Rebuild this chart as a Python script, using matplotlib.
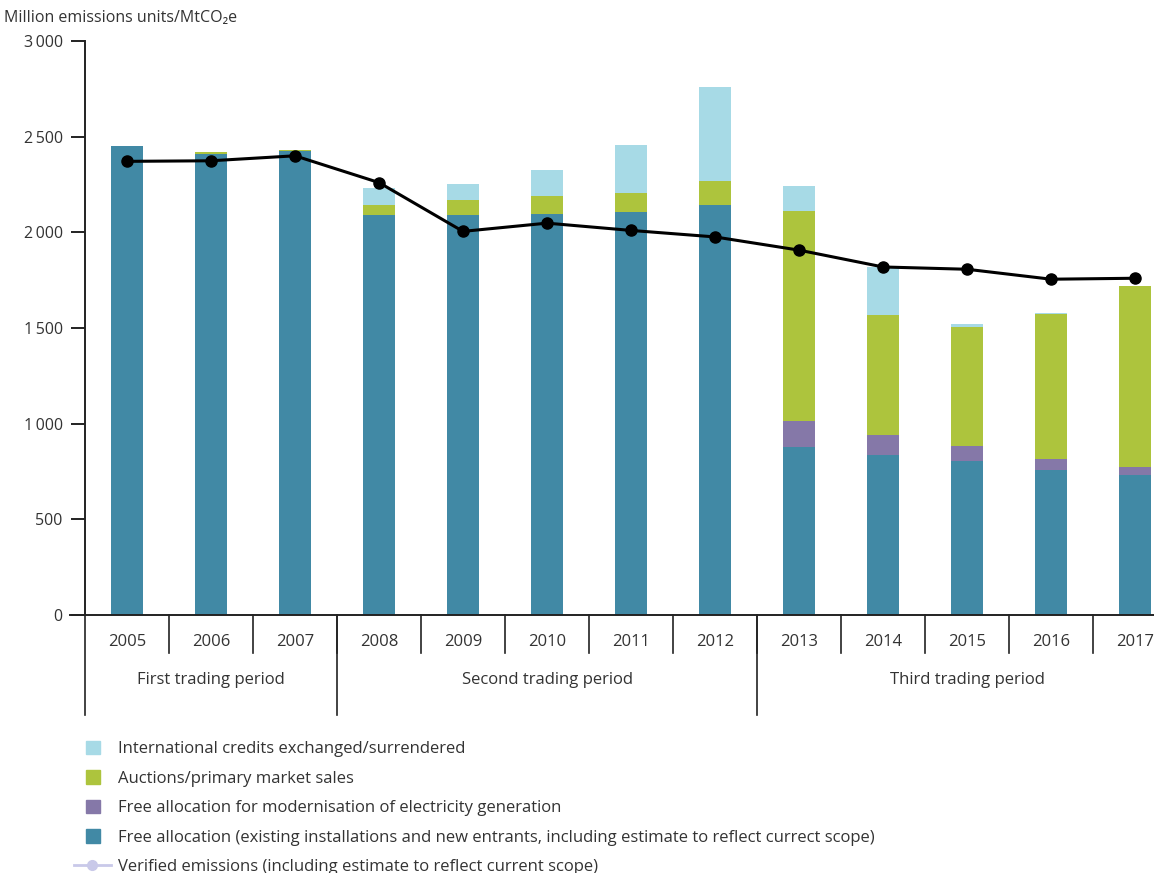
import matplotlib
matplotlib.use('Agg')
import matplotlib.pyplot as plt
from matplotlib.patches import Patch
from matplotlib.lines import Line2D
from matplotlib.legend_handler import HandlerLine2D
import numpy as np

plt.rcParams['font.family'] = ['Open Sans', 'DejaVu Sans']

years = ['2005', '2006', '2007', '2008', '2009', '2010', '2011', '2012',
         '2013', '2014', '2015', '2016', '2017']
free_alloc = [2453, 2410, 2425, 2088, 2091, 2097, 2108, 2143, 879, 838, 807, 760, 730]
modernisation = [0, 0, 0, 0, 0, 0, 0, 0, 135, 103, 76, 54, 42]
auctions = [0, 12, 5, 55, 78, 94, 99, 124, 1100, 626, 622, 760, 948]
intl_credits = [0, 0, 0, 91, 83, 136, 250, 493, 129, 254, 17, 5, 0]
verified = [2371, 2374, 2400, 2260, 2005, 2048, 2010, 1976, 1907, 1819, 1807, 1755, 1760]

periods = ['First trading period', 'Second trading period', 'Third trading period']
period_bounds = [(0, 2), (3, 7), (8, 12)]

c_free = '#4189a5'
c_mod = '#8578a8'
c_auct = '#adc43d'
c_intl = '#a7dae6'
txt = '#333333'
fs = 12


class LongLine(HandlerLine2D):
    # legend line for verified emissions reaches out past the square swatches
    def create_artists(self, legend, orig_handle, xdescent, ydescent, width,
                       height, fontsize, trans):
        return super().create_artists(legend, orig_handle, xdescent + 9, ydescent,
                                      width + 17, height, fontsize, trans)


fig = plt.figure(figsize=(11.54, 8.73), dpi=100)
W, H = 1154, 873
ax = fig.add_axes([85 / W, 1 - 615 / H, 1092 / W, 574 / H])

x = np.arange(len(years))
bw = 0.39
b1 = np.array(free_alloc)
b2 = b1 + np.array(modernisation)
b3 = b2 + np.array(auctions)
ax.bar(x, free_alloc, bw, color=c_free)
ax.bar(x, modernisation, bw, bottom=b1, color=c_mod)
ax.bar(x, auctions, bw, bottom=b2, color=c_auct)
ax.bar(x, intl_credits, bw, bottom=b3, color=c_intl)
ax.plot(x, verified, color='black', lw=2.2, marker='o', ms=8, zorder=5)

ax.set_xlim(-0.5, len(years) - 0.5)
ax.set_ylim(0, 3000)
ax.set_yticks(range(0, 3001, 500))
ax.set_yticklabels([f'{v:,}'.replace(',', '\u2009') if v >= 1000 else str(v)
                    for v in range(0, 3001, 500)], fontsize=11.5, color=txt)
ax.tick_params(axis='y', length=10, width=1.4, color='#222222', pad=6)
ax.set_xticks([])
for s in ['top', 'right']:
    ax.spines[s].set_visible(False)
ax.spines['left'].set_linewidth(1.4)
ax.spines['bottom'].set_linewidth(1.4)
ax.spines['left'].set_color('#222222')
ax.spines['bottom'].set_color('#222222')

# baseline runs a little past the y axis, like a tick
ax.plot([-0.5 - 15 / 84, -0.5], [0, 0], transform=ax.get_xaxis_transform(),
        color='#222222', lw=1.4, clip_on=False)

tr = ax.get_xaxis_transform()
px = 1 / 574
for i, y in enumerate(years):
    ax.text(i, -27 * px, y, transform=tr, ha='center', va='center', fontsize=fs, color=txt)
for b in np.arange(0.5, len(years) - 1, 1.0):
    ax.plot([b, b], [0, -38 * px], transform=tr, color='#222222', lw=1.2, clip_on=False)
for b in [-0.5, 2.5, 7.5]:
    ax.plot([b, b], [0, -100 * px], transform=tr, color='#222222', lw=1.2, clip_on=False)
for name, (a, z) in zip(periods, period_bounds):
    ax.text((a + z) / 2, -65 * px, name, transform=tr, ha='center', va='center',
            fontsize=fs, color=txt)

fig.text(4 / W, 1 - 18 / H, 'Million emissions units/MtCO\u2082e', fontsize=11.5,
         color=txt, va='center', ha='left')

ver = Line2D([], [], color='#c9c9e9', lw=2, marker='o', ms=7,
             label='Verified emissions (including estimate to reflect current scope)')
handles = [
    Patch(color=c_intl, label='International credits exchanged/surrendered'),
    Patch(color=c_auct, label='Auctions/primary market sales'),
    Patch(color=c_mod, label='Free allocation for modernisation of electricity generation'),
    Patch(color=c_free, label='Free allocation (existing installations and new entrants, '
                              'including estimate to reflect currect scope)'),
    ver,
]
fig.legend(handles=handles, loc='upper left', bbox_to_anchor=(86 / W, 1 - 741 / H),
           frameon=False, fontsize=fs, handlelength=0.85, handleheight=0.85,
           handletextpad=1.1, labelspacing=0.78, borderpad=0, borderaxespad=0,
           labelcolor=txt, handler_map={ver: LongLine()})

fig.savefig('out.png', dpi=100)
